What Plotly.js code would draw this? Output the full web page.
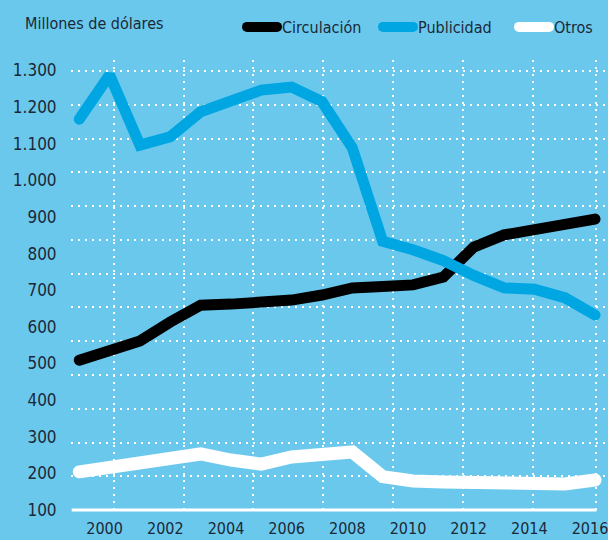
<!DOCTYPE html>
<html><head><meta charset="utf-8">
<script src="https://cdn.plot.ly/plotly-3.0.1.min.js"></script>
<style>
html,body{margin:0;padding:0;background:#6AC8EC;}
#chart{width:608px;height:540px;}
.scatterlayer .js-line{stroke-linecap:round;}
.legendlines path{stroke-linecap:round;}
</style></head><body><div id="chart"></div>
<script>
// ---- data ----
const years = [1999,2000,2001,2002,2003,2004,2005,2006,2007,2008,2009,2010,2011,2012,2013,2014,2015,2016];
const circulacion = [444,474,501,557,607,610,612,622,637,658,662,667,690,779,815,830,844,862];
const publicidad  = [1158,1289,1081,1106,1180,1209,1244,1253,1210,1073,796,771,739,695,658,654,629,578];
const otros       = [113,127,139,148,166,148,136,157,169,172,99,86,83,81,79,76,77,89];
const seriesNames = ['Circulación','Publicidad','Otros'];
const seriesColors = ['#000000','#00A6E2','#FFFFFF'];
const xTickVals = [2000,2002,2004,2006,2008,2010,2012,2014,2016];
const yTickVals = [100,200,300,400,500,600,700,800,900,1000,1100,1200,1300];
const yTickText = ['100','200','300','400','500','600','700','800','900','1.000','1.100','1.200','1.300'];
// decorative vertical grid (not aligned with years in the original)
const vGridVals = [2000.13,2002.44,2004.73,2007.04,2009.35,2011.64,2013.95,2016.03];

const FONT = '"Liberation Sans Narrow","DejaVu Sans Condensed","Roboto",sans-serif';
const TXT = '#1b2838';
const seriesValues = [circulacion, publicidad, otros];
const widths = [11, 11, 13];

const traces = seriesNames.map((n, i) => ({
  type: 'scatter', mode: 'lines', name: n, x: years, y: seriesValues[i],
  line: {color: seriesColors[i], width: widths[i], shape: 'linear'},
  xaxis: 'x', yaxis: 'y', hoverinfo: 'skip'
}));
// empty helper trace so the overlay axes (labels / decorative grid) get drawn
traces.push({type: 'scatter', mode: 'lines', x: [], y: [], xaxis: 'x2', yaxis: 'y2', showlegend: false, hoverinfo: 'skip'});

const xr = [1998.727, 2016.428];
const layout = {
  width: 608, height: 540,
  paper_bgcolor: '#6AC8EC', plot_bgcolor: 'rgba(0,0,0,0)',
  margin: {l: 71, r: 0, t: 60, b: 28, pad: 0},
  font: {family: FONT, color: TXT, size: 16},
  title: {text: 'Millones de dólares', x: 25/608, xref: 'container', xanchor: 'left',
          y: 1 - 23/540, yanchor: 'middle', yref: 'container', font: {family: FONT, size: 16, color: TXT}},
  showlegend: true,
  legend: {orientation: 'h', x: 242/608, xref: 'container', xanchor: 'left', y: 1 - 27/540, yref: 'container', yanchor: 'middle',
           font: {family: FONT, size: 16, color: TXT}, bgcolor: 'rgba(0,0,0,0)', itemwidth: 30, traceorder: 'normal',
           entrywidth: 91, entrywidthmode: 'pixels'},
  xaxis: {range: xr, tickmode: 'array', tickvals: xTickVals, showgrid: false, zeroline: false,
          showline: false, ticks: 'outside', ticklen: 2, tickcolor: 'rgba(0,0,0,0)', tickfont: {size: 16},
          ticklabelshift: -5, ticklabeloverflow: 'allow'},
  xaxis2: {range: xr, overlaying: 'x', tickmode: 'array', tickvals: vGridVals, showticklabels: false,
           showgrid: true, gridcolor: '#ffffff', gridwidth: 2, griddash: '2px,5px', zeroline: false, showline: false, ticks: ''},
  yaxis: {range: [-5.93, 1333.3], tickmode: 'array', tickvals: yTickVals, showticklabels: false,
          showgrid: true, gridcolor: '#ffffff', gridwidth: 2, griddash: '2px,5px', zeroline: false, showline: false, ticks: ''},
  yaxis2: {range: [94.54, 1328.7], overlaying: 'y', side: 'left', tickmode: 'array', tickvals: yTickVals, ticktext: yTickText,
           showgrid: false, zeroline: false, showline: false, ticks: 'outside', ticklen: 10, tickcolor: 'rgba(0,0,0,0)', tickfont: {size: 17}},
  shapes: [{type: 'line', xref: 'x', yref: 'y', x0: years[0] - 0.25, x1: years[years.length-1] + 0.05, y0: 0, y1: 0,
            line: {color: '#ffffff', width: 3}, layer: 'above'}]
};
Plotly.newPlot('chart', traces, layout, {displayModeBar: false, staticPlot: true});
</script></body></html>
